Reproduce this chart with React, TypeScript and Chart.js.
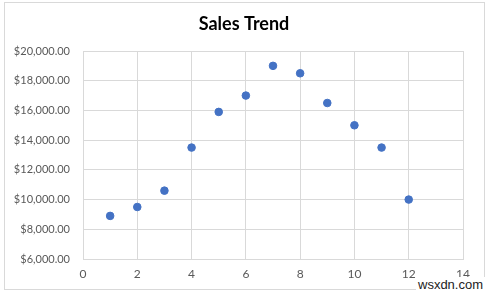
import React, { useEffect, useRef } from "react";
import { Chart, registerables } from "chart.js";

Chart.register(...registerables);

const months: number[] = [1, 2, 3, 4, 5, 6, 7, 8, 9, 10, 11, 12];
const sales: number[] = [8900, 9500, 10600, 13500, 15900, 17000, 19000, 18500, 16500, 15000, 13500, 10000];
const xTicks = { min: 0, max: 14, step: 2 };
const yTicks = { min: 6000, max: 20000, step: 2000 };
const title = "Sales Trend";

const fmt = (v: number) =>
  "$" + v.toLocaleString("en-US", { minimumFractionDigits: 2, maximumFractionDigits: 2 });

const FONT = "Lato, 'Open Sans', sans-serif";

const titlePlugin = {
  id: "centeredTitle",
  afterDraw(chart: any) {
    const ctx = chart.ctx;
    ctx.save();
    ctx.font = `bold 18px ${FONT}`;
    ctx.fillStyle = "#000000";
    ctx.textAlign = "center";
    ctx.textBaseline = "middle";
    ctx.fillText(title, 244, 24);
    ctx.restore();
  },
};

export default function App() {
  const ref = useRef<HTMLCanvasElement | null>(null);
  useEffect(() => {
    if (!ref.current) return;
    const chart = new Chart(ref.current, {
      type: "scatter",
      data: {
        datasets: [
          {
            label: "Sales",
            data: months.map((m, i) => ({ x: m, y: sales[i] })),
            backgroundColor: "#4472C4",
            borderColor: "#4472C4",
            pointRadius: 3.8,
            pointHoverRadius: 3.8,
          },
        ],
      },
      plugins: [titlePlugin],
      options: {
        animation: false,
        responsive: false,
        maintainAspectRatio: false,
        events: [],
        layout: { padding: { left: 0, right: 27, top: 51, bottom: 0 } },
        plugins: {
          legend: { display: false },
          tooltip: { enabled: false },
          title: { display: false },
        },
        scales: {
          x: {
            type: "linear",
            min: xTicks.min,
            max: xTicks.max,
            afterFit: (s: any) => {
              s.height = 36;
            },
            ticks: {
              stepSize: xTicks.step,
              color: "#595959",
              padding: 8,
              font: { family: FONT, size: 12 },
            },
            grid: { color: "#d9d9d9", drawTicks: false },
            border: { color: "#d9d9d9" },
          },
          y: {
            type: "linear",
            min: yTicks.min,
            max: yTicks.max,
            afterFit: (s: any) => {
              s.width = 83;
            },
            ticks: {
              stepSize: yTicks.step,
              color: "#595959",
              padding: 13,
              font: { family: FONT, size: 11 },
              callback: (v: any) => fmt(Number(v)),
            },
            grid: { color: "#d9d9d9", drawTicks: false },
            border: { color: "#d9d9d9" },
          },
        },
      },
    });
    return () => chart.destroy();
  }, []);

  return (
    <div style={{ position: "fixed", left: 0, top: 0, width: 490, height: 295, background: "#fff" }}>
      <canvas ref={ref} width={490} height={295} style={{ display: "block" }} />
      <div
        style={{
          position: "absolute",
          left: 4,
          top: 2,
          width: 479,
          height: 286,
          border: "1px solid #d9d9d9",
          pointerEvents: "none",
        }}
      />
      <div
        style={{
          position: "absolute",
          left: 416,
          top: 277,
          fontFamily: "'Liberation Sans', Arial, sans-serif",
          fontSize: 13,
          color: "#222",
          background: "#fff",
          lineHeight: "16px",
          padding: "0 2px",
        }}
      >
        wsxdn.com
      </div>
    </div>
  );
}
